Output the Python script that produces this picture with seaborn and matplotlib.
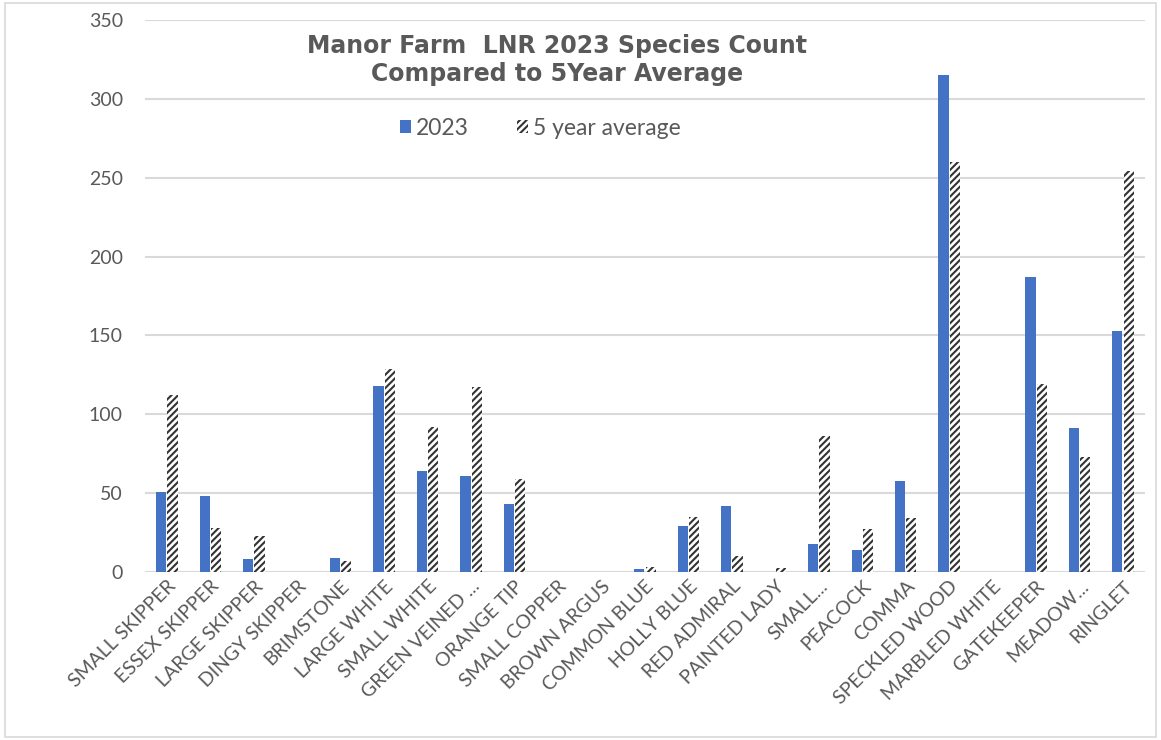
import numpy as np
import matplotlib
matplotlib.use("Agg")
import matplotlib.pyplot as plt
from matplotlib.patches import Rectangle, Patch
import pandas as pd
import seaborn as sns

sns.set_style("white")
plt.rcParams['font.family'] = ['Lato', 'DejaVu Sans']
plt.rcParams['hatch.linewidth'] = 1.5

species = ["SMALL SKIPPER", "ESSEX SKIPPER", "LARGE SKIPPER", "DINGY SKIPPER",
           "BRIMSTONE", "LARGE WHITE", "SMALL WHITE", "GREEN VEINED ...",
           "ORANGE TIP", "SMALL COPPER", "BROWN ARGUS", "COMMON BLUE",
           "HOLLY BLUE", "RED ADMIRAL", "PAINTED LADY", "SMALL...",
           "PEACOCK", "COMMA", "SPECKLED WOOD", "MARBLED WHITE",
           "GATEKEEPER", "MEADOW...", "RINGLET"]
count_2023 = [51, 48, 8, 0, 9, 118, 64, 61, 43, 0, 0, 2, 29, 42, 0, 18,
              14, 58, 315, 0, 187, 91, 153]
avg_5yr = [112, 28, 23, 0, 7, 129, 92, 117, 59, 0, 0, 3, 35, 10, 2.5, 86,
           27, 34, 260, 0, 119, 73, 254]

df = pd.DataFrame({
    "species": species * 2,
    "count": count_2023 + avg_5yr,
    "series": ["2023"] * len(species) + ["5 year average"] * len(species),
})

blue = "#4472C4"
grey = "#595959"

fig = plt.figure(figsize=(11.61, 7.40), dpi=100)
ax = fig.add_axes([0.125, 0.227, 0.861, 0.746])

sns.barplot(data=df, x="species", y="count", hue="series",
            palette=[blue, "white"], width=0.52, gap=0.1,
            saturation=1, ax=ax, legend=False)

n = len(species)
for i, p in enumerate(ax.patches):
    if i >= n:
        p.set_facecolor("white")
        p.set_hatch("/////")
        p.set_edgecolor("#333333")
        p.set_linewidth(0)
    else:
        p.set_edgecolor("none")

ax.set_ylim(0, 350)
ax.set_yticks(range(0, 351, 50))
ax.set_xlim(-0.5, n - 0.5)
ax.yaxis.grid(True, color="#D9D9D9", linewidth=1.5)
ax.set_axisbelow(True)
for s in ax.spines.values():
    s.set_visible(False)
ax.set_xlabel("")
ax.set_ylabel("")
ax.tick_params(axis="y", labelsize=14, colors=grey, length=0, pad=16)
ax.tick_params(axis="x", labelsize=14, colors=grey, length=0, pad=4)
plt.setp(ax.get_xticklabels(), rotation=45, ha="right", rotation_mode="anchor")

ax.text(0.412, 0.975, "Manor Farm  LNR 2023 Species Count\nCompared to 5Year Average",
        transform=ax.transAxes, ha="center", va="top", fontsize=17,
        fontweight="heavy", color=grey, linespacing=1.2,
        family=["DejaVu Sans"])

handles = [Patch(facecolor=blue, edgecolor="none", label="2023"),
           Patch(facecolor="white", edgecolor="#333333", hatch="/////",
                 linewidth=0, label="5 year average")]
leg = ax.legend(handles=handles, loc="center", bbox_to_anchor=(0.395, 0.804),
                ncol=2, frameon=False, fontsize=16.5, handlelength=0.5,
                handleheight=0.55, columnspacing=2.1, handletextpad=0.2)
for t in leg.get_texts():
    t.set_color(grey)

fig.patches.append(Rectangle((0.004, 0.004), 0.992, 0.992, transform=fig.transFigure,
                             fill=False, edgecolor="#D9D9D9", linewidth=1.2))

fig.savefig("out.png", dpi=100)
